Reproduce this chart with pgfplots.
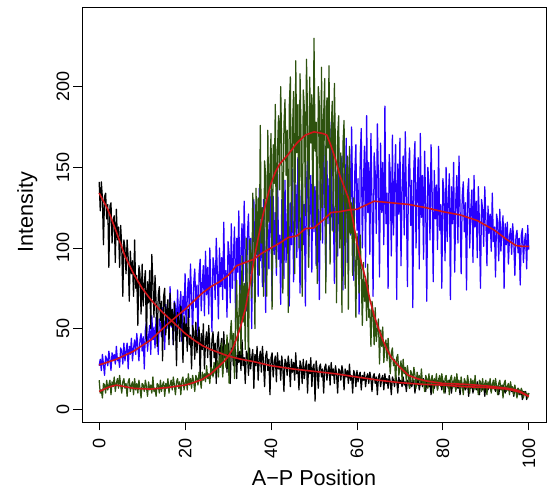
\documentclass[border=0pt]{standalone}
\usepackage{fontspec}
\setmainfont{Liberation Sans}
\usepackage{pgfplots}
\pgfplotsset{compat=1.18}
\definecolor{myblue}{RGB}{40,0,255}
\definecolor{mygreen}{RGB}{45,82,14}
\definecolor{myred}{RGB}{210,20,25}
\begin{document}
\begin{tikzpicture}
\begin{axis}[
 scale only axis, width=464pt, height=415pt,
 xmin=-4, xmax=104, ymin=-7.9, ymax=249.4,
 axis line style={line width=0.8pt},
 xtick={0,20,...,100}, ytick={0,50,...,200},
 tick align=outside, xtick pos=bottom, ytick pos=left,
 major tick length=8.5pt,
 every tick/.style={black, line width=0.8pt},
 /pgf/number format/assume math mode=true,
 tick label style={font=\fontsize{18}{18}\selectfont},
 xticklabel style={rotate=90, anchor=east, inner sep=0pt},
 yticklabel style={rotate=90, anchor=south, inner sep=0pt},
 xticklabel shift=8pt, yticklabel shift=4pt,
 xlabel={A−P Position}, ylabel={Intensity},
 label style={font=\fontsize{21.6}{22}\selectfont},
 xlabel style={at={(axis description cs:0.5,-0.1542)}, anchor=base},
 ylabel style={at={(axis description cs:-0.1056,0.506)}, anchor=base},
 every axis plot/.append style={line join=round},
]
% blue
\addplot[myblue, line width=1.25pt, mark=none] coordinates {
(0,27)(0.25,31)(0.5,24)(0.75,34)(1,28)(1.25,21)(1.5,33)(1.75,31)(2,27)(2.25,36)(2.5,31)(2.75,24)(3,35)(3.25,30)(3.5,34)(3.75,28)(4,39)(4.25,30)(4.5,32)(4.75,26)(5,38)(5.25,36)(5.5,28)(5.75,41)(6,30)(6.25,36)(6.5,41)(6.75,25)(7,39)(7.25,34)(7.5,44)(7.75,30)(8,38)(8.25,43)(8.5,34)(8.75,47)(9,39)(9.25,30)(9.5,43)(9.75,47)(10,36)(10.25,45)(10.5,25)(10.75,49)(11,54)(11.25,36)(11.5,45)(11.75,52)(12,34)(12.25,58)(12.5,43)(12.75,51)(13,38)(13.25,57)(13.5,47)(13.75,34)(14,56)(14.25,53)(14.5,45)(14.75,63)(15,55)(15.25,37)(15.5,65)(15.75,50)(16,62)(16.25,46)(16.5,76)(16.75,51)(17,57)(17.25,40)(17.5,67)(17.75,64)(18,48)(18.25,74)(18.5,53)(18.75,64)(19,73)(19.25,42)(19.5,70)(19.75,59)(20,84)(20.25,48)(20.5,69)(20.75,81)(21,57)(21.25,90)(21.5,69)(21.75,46)(22,78)(22.25,87)(22.5,63)(22.75,77)(23,45)(23.25,84)(23.5,93)(23.75,61)(24,78)(24.25,89)(24.5,58)(24.75,98)(25,71)(25.25,88)(25.5,59)(25.75,100)(26,76)(26.25,48)(26.5,94)(26.75,88)(27,68)(27.25,106)(27.5,85)(27.75,56)(28,100)(28.25,76)(28.5,94)(28.75,68)(29,116)(29.25,75)(29.5,86)(29.75,57)(30,104)(30.25,96)(30.5,66)(30.75,115)(31,75)(31.25,95)(31.5,113)(31.75,54)(32,106)(32.25,85)(32.5,123)(32.75,67)(33,98)(33.25,115)(33.5,79)(33.75,129)(34,95)(34.25,61)(34.5,108)(34.75,121)(35,84)(35.25,106)(35.5,50)(35.75,116)(36,130)(36.25,77)(36.5,103)(36.75,122)(37,70)(37.25,137)(37.5,92)(37.75,115)(38,76)(38.25,130)(38.5,98)(38.75,60)(39,122)(39.25,113)(39.5,87)(39.75,136)(40,110)(40.25,67)(40.5,132)(40.75,96)(41,122)(41.25,83)(41.5,154)(41.75,93)(42,108)(42.25,65)(42.5,130)(42.75,120)(43,81)(43.25,142)(43.5,91)(43.75,117)(44,138)(44.25,64)(44.5,128)(44.75,102)(45,149)(45.25,79)(45.5,118)(45.75,139)(46,94)(46.25,156)(46.5,115)(46.75,72)(47,132)(47.25,148)(47.5,102)(47.75,127)(48,64)(48.25,138)(48.5,154)(48.75,94)(49,123)(49.25,145)(49.5,85)(49.75,161)(50,110)(50.25,138)(50.5,89)(50.75,156)(51,118)(51.25,68)(51.5,146)(51.75,136)(52,103)(52.25,164)(52.5,131)(52.75,82)(53,154)(53.25,115)(53.5,143)(53.75,99)(54,178)(54.25,111)(54.5,127)(54.75,78)(55,150)(55.25,139)(55.5,95)(55.75,162)(56,107)(56.25,134)(56.5,157)(56.75,74)(57,146)(57.25,118)(57.5,168)(57.75,91)(58,135)(58.25,158)(58.5,108)(58.75,175)(59,130)(59.25,80)(59.5,147)(59.75,164)(60,111)(60.25,143)(60.5,59)(60.75,156)(61,174)(61.25,100)(61.5,139)(61.75,163)(62,88)(62.25,182)(62.5,122)(62.75,153)(63,96)(63.25,171)(63.5,129)(63.75,70)(64,159)(64.25,147)(64.5,109)(64.75,177)(65,141)(65.25,82)(65.5,165)(65.75,122)(66,153)(66.25,102)(66.5,188)(66.75,115)(67,134)(67.25,75)(67.5,158)(67.75,146)(68,95)(68.25,170)(68.5,108)(68.75,140)(69,164)(69.25,68)(69.5,152)(69.75,121)(70,168)(70.25,89)(70.5,137)(70.75,157)(71,108)(71.25,172)(71.5,132)(71.75,76)(72,147)(72.25,162)(72.5,114)(72.75,142)(73,63)(73.25,151)(73.5,166)(73.75,100)(74,136)(74.25,156)(74.5,87)(74.75,171)(75,119)(75.25,145)(75.5,93)(75.75,160)(76,125)(76.25,67)(76.5,150)(76.75,140)(77,105)(77.25,164)(77.5,134)(77.75,79)(78,148)(78.25,118)(78.5,139)(78.75,99)(79,163)(79.25,111)(79.5,127)(79.75,75)(80,143)(80.25,134)(80.5,92)(80.75,150)(81,104)(81.25,130)(81.5,146)(81.75,68)(82,138)(82.25,115)(82.5,153)(82.75,85)(83,129)(83.25,145)(83.5,103)(83.75,157)(84,124)(84.25,84)(84.5,132)(84.75,141)(85,110)(85.25,128)(85.5,74)(85.75,134)(86,143)(86.25,100)(86.5,124)(86.75,136)(87,91)(87.25,145)(87.5,113)(87.75,129)(88,94)(88.25,138)(88.5,116)(88.75,75)(89,130)(89.25,124)(89.5,101)(89.75,138)(90,118)(90.25,89)(90.5,126)(90.75,109)(91,121)(91.25,98)(91.5,134)(91.75,104)(92,113)(92.25,82)(92.5,121)(92.75,116)(93,92)(93.25,124)(93.5,98)(93.75,112)(94,120)(94.25,75)(94.5,115)(94.75,102)(95,116)(95.25,90)(95.5,107)(95.75,112)(96,96)(96.25,115)(96.5,104)(96.75,83)(97,107)(97.25,111)(97.5,97)(97.75,106)(98,77)(98.25,108)(98.5,112)(98.75,91)(99,104)(99.25,109)(99.5,87)(99.75,114)(100,99)
};
% black
\addplot[black, line width=1.25pt, mark=none] coordinates {
(0,141)(0.25,123)(0.5,141)(0.75,131)(1,102)(1.25,132)(1.5,134)(1.75,118)(2,127)(2.25,88)(2.5,126)(2.75,128)(3,103)(3.25,117)(3.5,120)(3.75,91)(4,124)(4.25,105)(4.5,113)(4.75,88)(5,114)(5.25,101)(5.5,70)(5.75,105)(6,100)(6.25,84)(6.5,105)(6.75,94)(7,67)(7.25,98)(7.5,84)(7.75,92)(8,70)(8.25,105)(8.5,75)(8.75,83)(9,52)(9.25,89)(9.5,84)(9.75,59)(10,90)(10.25,64)(10.5,78)(10.75,86)(11,41)(11.25,79)(11.5,66)(11.75,86)(12,50)(12.25,96)(12.5,78)(12.75,57)(13,83)(13.25,66)(13.5,39)(13.75,71)(14,76)(14.25,55)(14.5,67)(14.75,30)(15,70)(15.25,75)(15.5,46)(15.75,62)(16,68)(16.25,40)(16.5,72)(16.75,52)(17,62)(17.25,40)(17.5,66)(17.75,53)(18,27)(18.25,60)(18.5,56)(18.75,42)(19,64)(19.25,53)(19.5,29)(19.75,58)(20,45)(20.25,53)(20.5,36)(20.75,62)(21,40)(21.25,46)(21.5,25)(21.75,52)(22,48)(22.25,31)(22.5,54)(22.75,35)(23,45)(23.25,51)(23.5,19)(23.75,47)(24,37)(24.25,53)(24.5,25)(24.75,42)(25,48)(25.25,32)(25.5,52)(25.75,39)(26,21)(26.25,43)(26.5,48)(26.75,32)(27,41)(27.25,16)(27.5,43)(27.75,48)(28,27)(28.25,38)(28.5,44)(28.75,22)(29,48)(29.25,32)(29.5,40)(29.75,23)(30,41)(30.25,33)(30.5,16)(30.75,38)(31,36)(31.25,27)(31.5,42)(31.75,34)(32,19)(32.25,39)(32.5,29)(32.75,36)(33,24)(33.25,43)(33.5,27)(33.75,32)(34,16)(34.25,36)(34.5,34)(34.75,21)(35,38)(35.25,25)(35.5,32)(35.75,37)(36,13)(36.25,34)(36.5,27)(36.75,39)(37,18)(37.25,31)(37.5,36)(37.75,23)(38,39)(38.25,29)(38.5,14)(38.75,33)(39,36)(39.25,24)(39.5,31)(39.75,9)(40,32)(40.25,35)(40.5,20)(40.75,29)(41,33)(41.25,17)(41.5,35)(41.75,25)(42,30)(42.25,18)(42.5,33)(42.75,26)(43,11)(43.25,31)(43.5,29)(43.75,21)(44,33)(44.25,27)(44.5,14)(44.75,31)(45,23)(45.25,29)(45.5,18)(45.75,35)(46,22)(46.25,26)(46.5,12)(46.75,30)(47,27)(47.25,16)(47.5,31)(47.75,19)(48,26)(48.25,30)(48.5,10)(48.75,28)(49,22)(49.25,32)(49.5,14)(49.75,26)(50,28)(50.25,5)(50.5,30)(50.75,24)(51,13)(51.25,26)(51.5,28)(51.75,20)(52,25)(52.25,10)(52.5,26)(52.75,28)(53,18)(53.25,24)(53.5,27)(53.75,15)(54,29)(54.25,21)(54.5,25)(54.75,16)(55,27)(55.25,22)(55.5,10)(55.75,25)(56,24)(56.25,18)(56.5,27)(56.75,23)(57,12)(57.25,25)(57.5,20)(57.75,24)(58,16)(58.25,28)(58.5,18)(58.75,21)(59,10)(59.25,24)(59.5,22)(59.75,14)(60,24)(60.25,17)(60.5,21)(60.75,23)(61,12)(61.25,21)(61.5,18)(61.75,23)(62,14)(62.25,20)(62.5,22)(62.75,16)(63,23)(63.25,19)(63.5,11)(63.75,20)(64,22)(64.25,16)(64.5,20)(64.75,9)(65,20)(65.25,22)(65.5,14)(65.75,19)(66,21)(66.25,12)(66.5,22)(66.75,16)(67,19)(67.25,13)(67.5,21)(67.75,17)(68,9)(68.25,20)(68.5,18)(68.75,14)(69,21)(69.25,18)(69.5,10)(69.75,20)(70,16)(70.25,18)(70.5,14)(70.75,20)(71,15)(71.25,17)(71.5,11)(71.75,18)(72,17)(72.25,13)(72.5,19)(72.75,14)(73,17)(73.25,18)(73.5,10)(73.75,17)(74,15)(74.25,19)(74.5,12)(74.75,16)(75,18)(75.25,14)(75.5,19)(75.75,16)(76,11)(76.25,17)(76.5,18)(76.75,14)(77,16)(77.25,9)(77.5,17)(77.75,18)(78,13)(78.25,16)(78.5,18)(78.75,12)(79,19)(79.25,15)(79.5,17)(79.75,12)(80,18)(80.25,15)(80.5,10)(80.75,17)(81,16)(81.25,13)(81.5,18)(81.75,15)(82,10)(82.25,17)(82.5,14)(82.75,16)(83,12)(83.25,18)(83.5,13)(83.75,15)(84,9)(84.25,16)(84.5,15)(84.75,11)(85,17)(85.25,12)(85.5,15)(85.75,16)(86,8)(86.25,15)(86.5,13)(86.75,17)(87,10)(87.25,15)(87.5,16)(87.75,12)(88,17)(88.25,14)(88.5,9)(88.75,15)(89,16)(89.25,12)(89.5,15)(89.75,8)(90,15)(90.25,16)(90.5,12)(90.75,14)(91,15)(91.25,11)(91.5,16)(91.75,13)(92,14)(92.25,11)(92.5,15)(92.75,13)(93,9)(93.25,14)(93.5,14)(93.75,12)(94,15)(94.25,13)(94.5,10)(94.75,14)(95,12)(95.25,13)(95.5,11)(95.75,15)(96,11)(96.25,12)(96.5,8)(96.75,13)(97,12)(97.25,9)(97.5,13)(97.75,9)(98,11)(98.25,12)(98.5,6)(98.75,11)(99,9)(99.25,11)(99.5,6)(99.75,9)(100,10)
};
% green
\addplot[mygreen, line width=1.25pt, mark=none] coordinates {
(0,18)(0.25,10)(0.5,12)(0.75,7)(1,16)(1.25,15)(1.5,10)(1.75,18)(2,12)(2.25,15)(2.5,18)(2.75,9)(3,17)(3.25,14)(3.5,20)(3.75,11)(4,16)(4.25,19)(4.5,13)(4.75,21)(5,15)(5.25,10)(5.5,17)(5.75,19)(6,13)(6.25,16)(6.5,8)(6.75,17)(7,19)(7.25,11)(7.5,15)(7.75,17)(8,9)(8.25,19)(8.5,12)(8.75,16)(9,10)(9.25,18)(9.5,13)(9.75,7)(10,16)(10.25,15)(10.5,11)(10.75,18)(11,14)(11.25,8)(11.5,17)(11.75,12)(12,15)(12.25,10)(12.5,20)(12.75,11)(13,13)(13.25,8)(13.5,16)(13.75,15)(14,10)(14.25,18)(14.5,11)(14.75,15)(15,17)(15.25,8)(15.5,16)(15.75,13)(16,19)(16.25,10)(16.5,15)(16.75,18)(17,12)(17.25,20)(17.5,15)(17.75,9)(18,17)(18.25,19)(18.5,13)(18.75,17)(19,9)(19.25,18)(19.5,20)(19.75,12)(20,16)(20.25,19)(20.5,12)(20.75,22)(21,15)(21.25,19)(21.5,13)(21.75,21)(22,17)(22.25,11)(22.5,21)(22.75,19)(23,15)(23.25,23)(23.5,19)(23.75,13)(24,23)(24.25,18)(24.5,22)(24.75,17)(25,27)(25.25,19)(25.5,22)(25.75,16)(26,26)(26.25,25)(26.5,20)(26.75,29)(27,22)(27.25,26)(27.5,30)(27.75,20)(28,33)(28.25,26)(28.5,41)(28.75,20)(29,33)(29.25,40)(29.5,26)(29.75,46)(30,35)(30.25,16)(30.5,46)(30.75,55)(31,33)(31.25,47)(31.5,19)(31.75,56)(32,80)(32.25,34)(32.5,57)(32.75,77)(33,34)(33.25,95)(33.5,54)(33.75,78)(34,37)(34.25,106)(34.5,69)(34.75,28)(35,105)(35.25,97)(35.5,69)(35.75,134)(36,105)(36.25,50)(36.5,137)(36.75,96)(37,131)(37.25,83)(37.5,176)(37.75,103)(38,125)(38.25,70)(38.5,154)(38.75,145)(39,70)(39.25,173)(39.5,116)(39.75,149)(40,171)(40.25,62)(40.5,164)(40.75,140)(41,189)(41.25,88)(41.5,160)(41.75,182)(42,136)(42.25,200)(42.5,159)(42.75,72)(43,176)(43.25,192)(43.5,145)(43.75,173)(44,60)(44.25,188)(44.5,206)(44.75,110)(45,173)(45.25,197)(45.5,84)(45.75,216)(46,159)(46.25,189)(46.5,100)(46.75,208)(47,168)(47.25,70)(47.5,198)(47.75,187)(48,120)(48.25,217)(48.5,182)(48.75,88)(49,206)(49.25,165)(49.5,195)(49.75,112)(50,230)(50.25,160)(50.5,178)(50.75,78)(51,200)(51.25,189)(51.5,105)(51.75,212)(52,125)(52.25,182)(52.5,205)(52.75,72)(53,193)(53.25,162)(53.5,213)(53.75,90)(54,173)(54.25,191)(54.5,110)(54.75,202)(55,160)(55.25,66)(55.5,170)(55.75,182)(56,100)(56.25,159)(56.5,60)(56.75,165)(57,179)(57.25,75)(57.5,139)(57.75,157)(58,62)(58.25,163)(58.5,109)(58.75,128)(59,83)(59.25,131)(59.5,97)(59.75,57)(60,109)(60.25,97)(60.5,72)(60.75,108)(61,84)(61.25,52)(61.5,91)(61.75,67)(62,79)(62.25,55)(62.5,90)(62.75,57)(63,62)(63.25,39)(63.5,67)(63.75,60)(64,40)(64.25,63)(64.5,42)(64.75,50)(65,56)(65.25,28)(65.5,49)(65.75,39)(66,51)(66.25,29)(66.5,39)(66.75,43)(67,30)(67.25,44)(67.5,33)(67.75,22)(68,35)(68.25,38)(68.5,27)(68.75,31)(69,17)(69.25,32)(69.5,34)(69.75,21)(70,26)(70.25,30)(70.5,18)(70.75,31)(71,22)(71.25,26)(71.5,17)(71.75,27)(72,21)(72.25,13)(72.5,24)(72.75,22)(73,17)(73.25,26)(73.5,21)(73.75,13)(74,23)(74.25,18)(74.5,21)(74.75,15)(75,25)(75.25,16)(75.5,18)(75.75,11)(76,21)(76.25,19)(76.5,13)(76.75,22)(77,15)(77.25,18)(77.5,21)(77.75,10)(78,19)(78.25,16)(78.5,22)(78.75,12)(79,18)(79.25,21)(79.5,14)(79.75,22)(80,17)(80.25,10)(80.5,19)(80.75,21)(81,14)(81.25,18)(81.5,9)(81.75,19)(82,21)(82.25,13)(82.5,17)(82.75,20)(83,11)(83.25,22)(83.5,15)(83.75,18)(84,12)(84.25,20)(84.5,15)(84.75,9)(85,19)(85.25,17)(85.5,13)(85.75,21)(86,16)(86.25,10)(86.5,19)(86.75,14)(87,18)(87.25,12)(87.5,21)(87.75,13)(88,15)(88.25,9)(88.5,18)(88.75,17)(89,11)(89.25,19)(89.5,12)(89.75,16)(90,18)(90.25,9)(90.5,17)(90.75,14)(91,19)(91.25,10)(91.5,15)(91.75,18)(92,12)(92.25,19)(92.5,14)(92.75,9)(93,16)(93.25,18)(93.5,12)(93.75,15)(94,7)(94.25,16)(94.5,18)(94.75,11)(95,14)(95.25,16)(95.5,9)(95.75,17)(96,12)(96.25,14)(96.5,9)(96.75,15)(97,11)(97.25,7)(97.5,13)(97.75,12)(98,9)(98.25,13)(98.5,11)(98.75,7)(99,11)(99.25,9)(99.5,10)(99.75,7)(100,10)
};
% smooth curves
\addplot[myred, line width=1.6pt, mark=none] coordinates {
(0,134)(1,129)(2,124)(3,117)(4,110)(5,102.5)(6,95)(7,89.5)(8,84)(9,79.5)(10,75)(11,71.5)(12,68)(13,65)(14,62)(15,59.5)(16,57)(17,54.5)(18,52)(19,49.5)(20,47)(22,43)(24,39.5)(26,37)(28,35)(30,33)(33,31)(36,29.5)(40,27)(45,25)(50,23.5)(55,22)(60,20)(65,18)(70,16.5)(75,15.5)(80,15)(85,14)(90,13.5)(95,12.5)(97,11.2)(98,10.5)(100,8)
};
\addplot[myred, line width=1.6pt, mark=none] coordinates {
(0,27.5)(2,29.2)(4,31)(6,33.5)(8,36)(10,39.5)(12,43)(14,48)(16,53)(18,57.5)(20,62)(22,67)(24,72)(26,76)(28,79)(30,83)(32,89)(34,91)(36,93)(38,97)(40,100)(42,103)(44,106.5)(46,107.5)(48,112)(50,112.5)(52,117)(54,122)(56,122.5)(58,123.5)(60,124)(62,126.5)(64,129)(66,128.5)(68,128)(70,127.5)(72,127)(74,126)(76,125)(78,123.75)(80,122.5)(82,121.5)(84,120.5)(86,118.75)(88,117)(90,114)(92,111)(93,109)(94,107)(95,105)(96,103.25)(97,101.5)(98.5,101)(100,101)
};
\addplot[myred, line width=1.6pt, mark=none] coordinates {
(0,11)(1,12.2)(2,13.5)(3,14.3)(4,15)(5,14.5)(6,14)(7,13.5)(8,13)(10,12.7)(12,12.5)(14,13)(16,13.5)(18,14.25)(20,15)(22,16.5)(24,18.5)(26,22)(27,24.4)(28,27)(29,29.5)(30,32.6)(31,37)(32,44)(33,52)(34,62)(35,76)(36,92)(37,106)(38,119)(39,130)(40,140)(41,147)(42,152)(43,155)(44,158)(45,161.5)(46,165)(47,167.5)(48,170)(49,171)(50,172)(51,171.5)(52,171)(53,170)(54,163)(55,155)(56,145)(57,138)(58,131)(59,118)(60,103)(61,91)(62,81)(63,68)(64,58)(65,50)(66,43)(67,37)(68,32)(69,29)(70,26)(72,21)(74,19)(76,17.6)(78,16.8)(80,16)(85,15.5)(90,14.5)(95,13)(97,12)(98,11)(99,9.5)(100,8)
};
\end{axis}
\pgfresetboundingbox
\path ([xshift=-82pt,yshift=-69pt]current axis.south west) rectangle ([xshift=1pt,yshift=7pt]current axis.north east);
\end{tikzpicture}
\end{document}
